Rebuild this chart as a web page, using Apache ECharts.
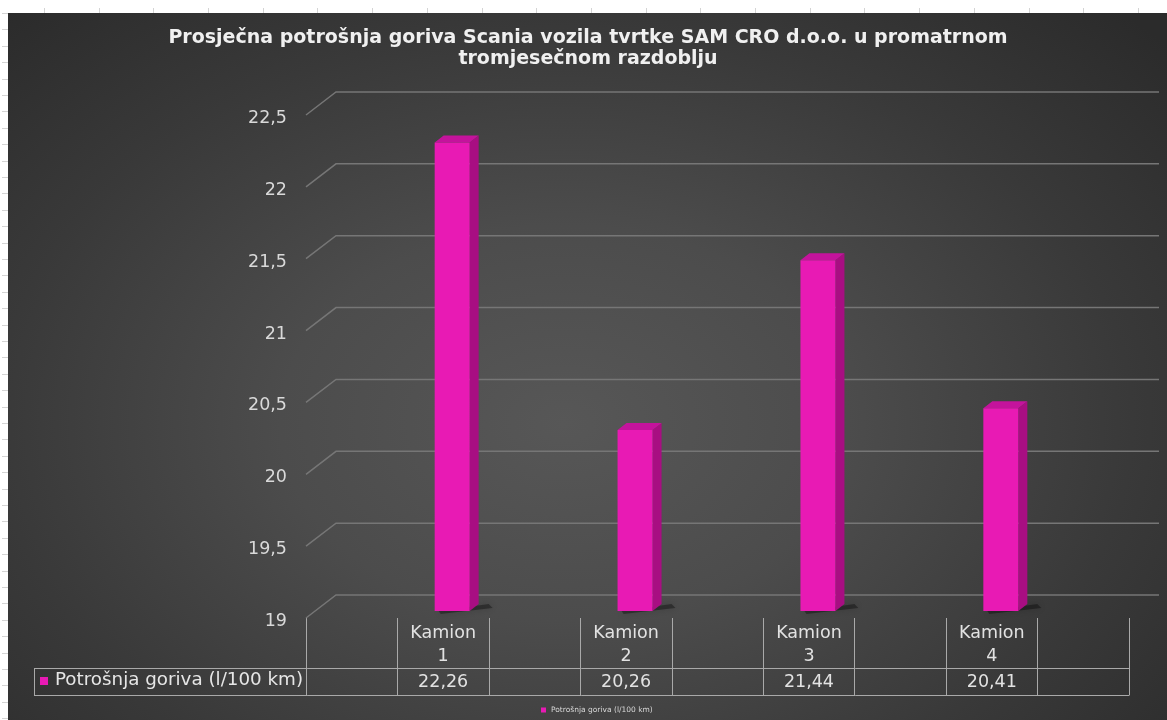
<!DOCTYPE html>
<html>
<head>
<meta charset="utf-8">
<script src="https://cdn.jsdelivr.net/npm/echarts@6/dist/echarts.min.js"></script>
<style>
  html, body { margin: 0; padding: 0; background: #ffffff; }
  #wrap { position: relative; width: 1167px; height: 720px; overflow: hidden; background: #fff; }
  #topticks { position: absolute; left: 0; top: 8px; width: 1167px; height: 5px;
    background: repeating-linear-gradient(90deg, transparent 0, transparent 44px, #d4d4d4 44px, #d4d4d4 45px, transparent 45px, transparent 54.7px); }
  #leftticks { position: absolute; left: 2px; top: 0; width: 6px; height: 720px;
    background: repeating-linear-gradient(180deg, transparent 0, transparent 13px, #d4d4d4 13px, #d4d4d4 14px, transparent 14px, transparent 16.4px); }
  #bg { position: absolute; left: 8px; top: 13px; width: 1159px; height: 707px;
    background: radial-gradient(ellipse 70% 80% at 48% 58%, #575757 0%, #4c4c4c 35%, #393939 70%, #2b2b2b 100%); }
  #chart { position: absolute; left: 0; top: 0; width: 1167px; height: 720px; }
</style>
</head>
<body>
<div id="wrap">
  <div id="topticks"></div>
  <div id="leftticks"></div>
  <div id="bg"></div>
  <div id="chart"></div>
</div>
<script>
// ---- data ----
const categories = ['Kamion 1', 'Kamion 2', 'Kamion 3', 'Kamion 4'];
const consumption = [22.26, 20.26, 21.44, 20.41];
const seriesName = 'Potrošnja goriva (l/100 km)';
const yTicks = [19, 19.5, 20, 20.5, 21, 21.5, 22, 22.5];
const titleText = 'Prosječna potrošnja goriva Scania vozila tvrtke SAM CRO d.o.o. u promatrnom\ntromjesečnom razdoblju';

// ---- layout / style ----
const FONT = '"DejaVu Sans", "Liberation Sans", Arial, sans-serif';
const GRID = { left: 306, top: 115, width: 823, height: 503 };
const BACK_DX = 30, BACK_DY = -23;    // back wall offset
const BAR_DX = 9, BAR_DY = -7;        // bar placement offset (depth middle)
const BAR_W = 35, DEPTH_X = 9, DEPTH_Y = -7;
const PINK = '#e81ab4', PINK_SIDE = '#a80e82', PINK_TOP = '#c4139c';
const LINE_GRID = '#767676', LINE_TABLE = '#a9a9a9';

const fmt = v => String(v).replace('.', ',');

// 9-slot axis: blank, Kamion 1, blank, Kamion 2, ... blank
const slots = [''];
const valueSlots = [''];
categories.forEach((c, i) => { slots.push(c); slots.push(''); valueSlots.push(fmt(consumption[i])); valueSlots.push(''); });
const barData = consumption.map((v, i) => [2 * i + 1, v]);
const frameData = yTicks.map(v => [0, v]);

const chart = echarts.init(document.getElementById('chart'), null, { renderer: 'canvas' });

const option = {
  backgroundColor: 'transparent',
  animation: false,
  title: {
    text: titleText,
    left: 588, top: 28, textAlign: 'center', padding: 0,
    textStyle: { fontFamily: FONT, fontSize: 19, fontWeight: 'bold', color: '#f0f0f0', lineHeight: 21 }
  },
  legend: {
    data: [{ name: seriesName, icon: 'rect', itemStyle: { color: PINK } }],
    left: 541, top: 706, itemWidth: 5, itemHeight: 5, itemGap: 3, padding: 0,
    textStyle: { fontFamily: FONT, fontSize: 7.5, color: '#d8d8d8' }
  },
  grid: { left: GRID.left, top: GRID.top, width: GRID.width, height: GRID.height, containLabel: false },
  xAxis: [{
    type: 'category', data: slots, position: 'bottom', boundaryGap: true,
    axisLine: { show: false },
    axisTick: { show: true, interval: 0, length: 77, lineStyle: { color: LINE_TABLE, width: 1 } },
    axisLabel: { interval: 0, margin: 4, fontFamily: FONT, fontSize: 17.5, lineHeight: 23, color: '#e2e2e2',
      formatter: n => n.replace(' ', '\n') },
    splitLine: { show: false }
  }, {
    type: 'category', data: valueSlots, position: 'bottom', offset: 50, boundaryGap: true,
    axisLine: { show: false }, axisTick: { show: false },
    axisLabel: { interval: 0, margin: 5, fontFamily: FONT, fontSize: 17.5, color: '#e2e2e2' },
    splitLine: { show: false }
  }],
  yAxis: {
    type: 'value', min: 19, max: 22.5, interval: 0.5,
    axisLine: { show: false }, axisTick: { show: false }, splitLine: { show: false },
    axisLabel: { margin: 19, formatter: v => '{t|' + fmt(v) + '}',
      rich: { t: { fontFamily: FONT, fontSize: 17.5, color: '#d9d9d9', padding: [7, 0, 0, 0] } } }
  },
  graphic: [
    { type: 'line', shape: { x1: 34, y1: 668.5, x2: 1129.5, y2: 668.5 }, style: { stroke: LINE_TABLE, lineWidth: 1 } },
    { type: 'line', shape: { x1: 34, y1: 695.5, x2: 1129.5, y2: 695.5 }, style: { stroke: LINE_TABLE, lineWidth: 1 } },
    { type: 'line', shape: { x1: 34.5, y1: 668, x2: 34.5, y2: 696 }, style: { stroke: LINE_TABLE, lineWidth: 1 } },
    { type: 'rect', shape: { x: 40, y: 677, width: 8, height: 8 }, style: { fill: PINK } },
    { type: 'text', left: 55, top: 671, style: { text: seriesName, font: '18.3px ' + FONT, fill: '#e6e6e6' } }
  ],
  series: [{
    type: 'custom', name: 'frame', silent: true, z: 1,
    data: frameData,
    renderItem: function (params, api) {
      const cs = params.coordSys;
      const y = api.coord([0, api.value(1)])[1];
      const x0 = cs.x, x1 = cs.x + cs.width;
      return {
        type: 'polyline',
        shape: { points: [[x0, y], [x0 + BACK_DX, y + BACK_DY], [x1 + BACK_DX, y + BACK_DY]] },
        style: { stroke: LINE_GRID, lineWidth: 1.5, fill: null }
      };
    }
  }, {
    type: 'custom', name: seriesName, z: 3,
    data: barData,
    renderItem: function (params, api) {
      const top = api.coord([api.value(0), api.value(1)]);
      const base = api.coord([api.value(0), 19]);
      const xl = top[0] + BAR_DX - BAR_W / 2, xr = xl + BAR_W;
      const yt = top[1] + BAR_DY, yb = base[1] + BAR_DY;
      return {
        type: 'group',
        children: [
          { type: 'polygon', shape: { points: [[xl + 4, yb], [xr + DEPTH_X + 10, yb + DEPTH_Y], [xr + DEPTH_X + 14, yb + DEPTH_Y + 4], [xl + 6, yb + 3]] },
            style: { fill: 'rgba(0,0,0,0.35)', shadowBlur: 6, shadowColor: 'rgba(0,0,0,0.5)' } },
          { type: 'polygon', shape: { points: [[xr, yt], [xr + DEPTH_X, yt + DEPTH_Y], [xr + DEPTH_X, yb + DEPTH_Y], [xr, yb]] },
            style: { fill: PINK_SIDE } },
          { type: 'polygon', shape: { points: [[xl, yt], [xl + DEPTH_X, yt + DEPTH_Y], [xr + DEPTH_X, yt + DEPTH_Y], [xr, yt]] },
            style: { fill: PINK_TOP } },
          { type: 'rect', shape: { x: xl, y: yt, width: BAR_W, height: yb - yt },
            style: { fill: PINK } }
        ]
      };
    }
  }]
};
chart.setOption(option);
</script>
</body>
</html>
